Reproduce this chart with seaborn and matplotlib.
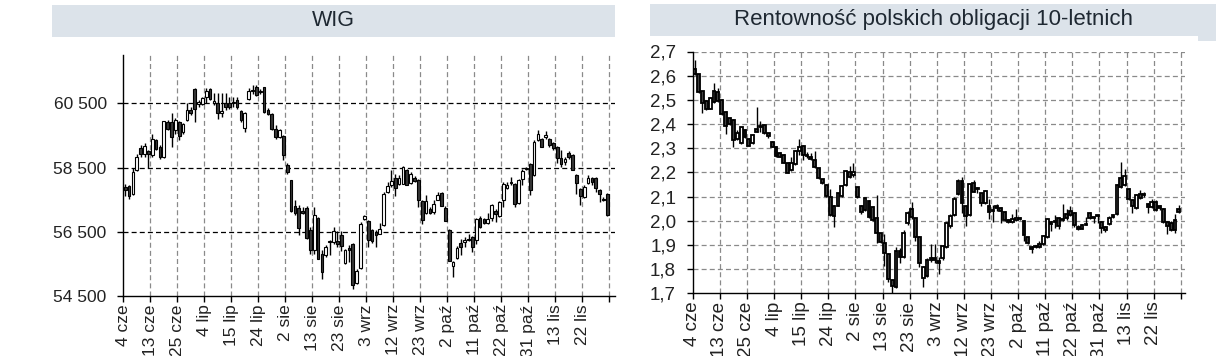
import numpy as np
import matplotlib
matplotlib.use("Agg")
import matplotlib.pyplot as plt
from matplotlib.patches import Rectangle
import seaborn as sns

# ---------------- data ----------------
tick_labels = ["4 cze", "13 cze", "25 cze", "4 lip", "15 lip", "24 lip", "2 sie",
               "13 sie", "23 sie", "3 wrz", "12 wrz", "23 wrz", "2 paź", "11 paź",
               "22 paź", "31 paź", "13 lis", "22 lis", ""]

wig_open = [57895, 57915, 57686, 58416, 59093, 58916, 59010, 58875, 59354, 59145,
            58833, 59906, 59906, 59666, 59906, 59614, 59979, 60292, 60948, 60470,
            60479, 60687, 60937, 60500, 60500, 60187, 60500, 60500, 60500, 60604,
            60260, 59719, 60625, 60875, 61000, 60850, 61000, 60292, 60156, 59687,
            59437, 59489, 58573, 58104, 57312, 57250, 57155, 57250, 56562, 55937,
            56937, 55812, 55760, 56187, 56177, 56198, 56385, 55520, 56000, 56125,
            54895, 55375, 56885, 56833, 56541, 56479, 56437, 56700, 57739, 57948,
            58177, 58000, 58000, 58416, 58020, 58187, 58125, 57468, 57083, 57208,
            57125, 57500, 57718, 57250, 56541, 55437, 55687, 56150, 56177, 56270,
            56333, 56230, 56937, 56906, 56770, 56937, 57145, 56979, 57479, 57875,
            58052, 58000, 57395, 58156, 58458, 58625, 58260, 59354, 59375, 59437,
            59375, 59250, 59145, 58812, 58677, 58958, 58875, 58281, 57843, 57583,
            58031, 58177, 58187, 57812, 57531, 57666]
wig_high = [58000, 57950, 58500, 58937, 59198, 59250, 59040, 59560, 59400, 59200,
            59950, 59980, 60190, 60030, 59958, 59900, 60521, 60400, 60969, 60600,
            60708, 60969, 60969, 60812, 60812, 60812, 60812, 60708, 60708, 60708,
            60292, 60240, 60969, 61073, 61073, 60960, 61000, 60343, 60187, 59822,
            59697, 59510, 58645, 58120, 57500, 57323, 57270, 57290, 56645, 57270,
            56958, 55916, 56073, 56250, 56645, 56520, 56520, 55958, 56073, 56145,
            55330, 56802, 57030, 56850, 56594, 56541, 56760, 57750, 58052, 58416,
            58312, 58260, 58552, 58468, 58364, 58229, 58156, 57500, 57635, 57270,
            57479, 57739, 57739, 57291, 56583, 55600, 56041, 56270, 56333, 56437,
            56354, 56927, 56979, 56937, 57083, 57375, 57208, 57458, 58052, 58052,
            58208, 58020, 58156, 58468, 58520, 58645, 59354, 59666, 59406, 59635,
            59406, 59302, 59166, 59041, 58833, 59010, 58916, 58312, 57875, 57948,
            58260, 58208, 58208, 57843, 57583, 57708]
wig_low = [57600, 57530, 57650, 58400, 58833, 58833, 58500, 58833, 59040, 58780,
           58800, 59670, 59145, 59560, 59354, 59550, 59958, 60135, 59906, 60400,
           60448, 60500, 60594, 60448, 60000, 60083, 60292, 60333, 60396, 60333,
           59927, 59614, 60594, 60792, 60729, 60800, 60200, 60135, 59666, 59400,
           59406, 58730, 58300, 57100, 57010, 56385, 57060, 56280, 55790, 55812,
           55655, 55030, 55710, 55760, 56125, 56020, 55895, 55500, 55565, 54720,
           54875, 55343, 56854, 56020, 56145, 56020, 56416, 56667, 57708, 57885,
           57604, 57948, 57979, 57948, 57995, 58052, 57270, 56750, 57062, 57062,
           57062, 57479, 57291, 56823, 55583, 55083, 55656, 55760, 56020, 56218,
           55864, 56125, 56625, 56750, 56750, 56833, 56802, 56958, 57270, 57843,
           57948, 57270, 57375, 57948, 58416, 57635, 58229, 59333, 59125, 59375,
           59145, 59041, 58645, 58520, 58572, 58780, 58416, 57666, 57322, 57562,
           58000, 57948, 57739, 57427, 57458, 57000]
wig_close = [57790, 57600, 58364, 58833, 58916, 59177, 58916, 59375, 59083, 58833,
             59948, 59708, 59437, 59989, 59479, 59854, 60292, 60187, 60312, 60530,
             60677, 60896, 60625, 60573, 60187, 60260, 60375, 60375, 60552, 60375,
             59979, 60187, 60896, 60917, 60760, 60900, 60240, 60156, 59687, 59437,
             59666, 58885, 58364, 57145, 57083, 56624, 57093, 56312, 55937, 57030,
             55655, 55260, 56020, 56218, 56510, 56125, 56052, 55916, 55916, 54843,
             55290, 56750, 56980, 56250, 56198, 56385, 56594, 57687, 57916, 58073,
             57875, 58177, 58520, 57968, 58312, 58073, 57500, 56855, 57458, 57093,
             57375, 57656, 57302, 56833, 55583, 55541, 56000, 56020, 56250, 56230,
             56020, 56906, 56645, 56770, 56906, 57322, 57041, 57427, 58000, 57948,
             58020, 57354, 58104, 58395, 58490, 57791, 59302, 59541, 59145, 59500,
             59198, 59093, 58812, 58625, 58770, 58833, 58437, 58020, 57614, 57896,
             58177, 58052, 57875, 57687, 57500, 57010]

bond_open = [2.626, 2.606, 2.536, 2.495, 2.464, 2.492, 2.533, 2.499, 2.449, 2.423,
             2.416, 2.340, 2.320, 2.375, 2.340, 2.320, 2.380, 2.388, 2.396, 2.361,
             2.327, 2.306, 2.281, 2.272, 2.240, 2.210, 2.234, 2.289, 2.309, 2.272,
             2.265, 2.251, 2.217, 2.171, 2.148, 2.099, 2.020, 2.062, 2.102, 2.146,
             2.202, 2.189, 2.138, 2.061, 2.044, 2.082, 2.058, 2.010, 1.948, 1.907,
             1.863, 1.755, 1.728, 1.876, 1.849, 1.989, 2.047, 2.010, 1.934, 1.762,
             1.772, 1.845, 1.848, 1.834, 1.845, 1.890, 1.978, 2.024, 2.110, 2.165,
             2.061, 2.024, 2.155, 2.134, 2.113, 2.072, 2.061, 2.045, 2.061, 2.051,
             2.037, 2.003, 1.996, 2.005, 2.011, 2.001, 1.931, 1.893, 1.896, 1.904,
             1.904, 1.934, 1.995, 1.993, 2.013, 2.003, 2.028, 2.042, 2.034, 1.975,
             1.967, 1.984, 2.032, 2.011, 2.019, 1.995, 1.975, 1.988, 2.014, 2.026,
             2.175, 2.148, 2.130, 2.086, 2.051, 2.112, 2.106, 2.068, 2.058, 2.076,
             2.061, 2.049, 1.994, 1.990, 1.962, 2.047]
bond_high = [2.664, 2.609, 2.538, 2.499, 2.510, 2.570, 2.547, 2.502, 2.453, 2.427,
             2.419, 2.375, 2.389, 2.378, 2.343, 2.357, 2.471, 2.413, 2.400, 2.364,
             2.330, 2.309, 2.285, 2.275, 2.243, 2.265, 2.292, 2.338, 2.313, 2.285,
             2.279, 2.289, 2.220, 2.174, 2.151, 2.130, 2.064, 2.116, 2.146, 2.209,
             2.226, 2.237, 2.141, 2.064, 2.096, 2.085, 2.061, 2.106, 1.951, 1.945,
             1.866, 1.758, 1.893, 1.886, 1.960, 2.041, 2.078, 2.013, 1.937, 1.814,
             1.845, 1.904, 1.904, 1.852, 1.900, 1.995, 2.030, 2.099, 2.171, 2.182,
             2.065, 2.157, 2.169, 2.141, 2.116, 2.127, 2.088, 2.065, 2.069, 2.058,
             2.041, 2.006, 2.030, 2.047, 2.016, 2.005, 1.934, 1.896, 1.900, 1.918,
             1.941, 2.013, 1.999, 2.023, 2.017, 2.068, 2.048, 2.062, 2.037, 1.981,
             1.985, 2.016, 2.037, 2.016, 2.023, 1.999, 1.980, 2.020, 2.030, 2.152,
             2.244, 2.216, 2.134, 2.089, 2.109, 2.126, 2.119, 2.075, 2.089, 2.086,
             2.065, 2.053, 1.999, 1.999, 2.026, 2.065]
bond_low = [2.602, 2.530, 2.444, 2.460, 2.461, 2.488, 2.492, 2.437, 2.358, 2.396,
            2.306, 2.336, 2.317, 2.344, 2.308, 2.317, 2.366, 2.366, 2.358, 2.343,
            2.303, 2.265, 2.262, 2.237, 2.196, 2.207, 2.231, 2.271, 2.253, 2.258,
            2.251, 2.220, 2.171, 2.152, 2.099, 2.021, 1.973, 2.059, 2.099, 2.143,
            2.175, 2.180, 2.093, 2.030, 2.041, 2.010, 2.000, 1.907, 1.910, 1.813,
            1.748, 1.693, 1.721, 1.827, 1.845, 1.982, 2.007, 1.916, 1.810, 1.727,
            1.766, 1.831, 1.827, 1.780, 1.838, 1.886, 1.971, 2.020, 2.106, 2.034,
            1.979, 2.020, 2.117, 2.113, 2.061, 2.068, 2.006, 1.996, 2.041, 1.992,
            2.000, 1.989, 1.989, 1.998, 2.003, 1.916, 1.903, 1.865, 1.886, 1.886,
            1.900, 1.930, 1.958, 1.970, 1.967, 1.999, 2.003, 2.020, 1.975, 1.962,
            1.964, 1.983, 2.009, 1.990, 1.990, 1.950, 1.953, 1.981, 2.010, 2.023,
            2.134, 2.144, 2.086, 2.034, 2.047, 2.092, 2.099, 2.031, 2.051, 2.041,
            2.044, 1.992, 1.947, 1.958, 1.950, 2.032]
bond_close = [2.606, 2.533, 2.488, 2.464, 2.506, 2.537, 2.496, 2.441, 2.393, 2.400,
              2.336, 2.364, 2.386, 2.347, 2.311, 2.354, 2.369, 2.391, 2.365, 2.350,
              2.306, 2.269, 2.265, 2.240, 2.199, 2.237, 2.288, 2.306, 2.271, 2.269,
              2.254, 2.223, 2.175, 2.155, 2.102, 2.024, 2.062, 2.113, 2.143, 2.205,
              2.179, 2.203, 2.097, 2.037, 2.093, 2.014, 2.003, 1.948, 1.913, 1.868,
              1.758, 1.730, 1.876, 1.849, 1.951, 2.033, 2.014, 1.934, 1.824, 1.810,
              1.838, 1.838, 1.838, 1.824, 1.896, 1.992, 2.019, 2.092, 2.165, 2.072,
              2.021, 2.152, 2.120, 2.130, 2.072, 2.124, 2.037, 2.041, 2.051, 2.041,
              2.003, 1.996, 2.006, 2.013, 2.008, 1.943, 1.907, 1.882, 1.890, 1.890,
              1.937, 2.009, 1.986, 1.997, 1.978, 2.009, 2.010, 2.023, 1.984, 1.967,
              1.981, 1.986, 2.013, 2.014, 2.023, 1.971, 1.963, 2.013, 2.023, 2.148,
              2.141, 2.185, 2.088, 2.062, 2.105, 2.095, 2.112, 2.055, 2.079, 2.045,
              2.051, 1.994, 1.978, 1.962, 2.003, 2.037]

# ---------------- style ----------------
sns.set_theme(style="ticks")
plt.rcParams["font.family"] = ["Liberation Sans", "DejaVu Sans"]

W, H = 1231, 356
fig = plt.figure(figsize=(W / 100, H / 100), dpi=100)
fig.patch.set_facecolor("white")


def fx(px):
    return px / W


def fy(py):
    return 1 - py / H


def candles(ax, o, h, l, c, bear_fill, edge_lw):
    o = np.asarray(o, float); h = np.asarray(h, float)
    l = np.asarray(l, float); c = np.asarray(c, float)
    x = np.arange(len(o)) + 0.5
    ax.vlines(x, l, h, color="black", lw=1.0, zorder=3)
    bull = c >= o
    bottom = np.minimum(o, c)
    height = np.abs(c - o)
    ax.bar(x[bull], height[bull], bottom=bottom[bull], width=0.72,
           color="white", edgecolor="black", linewidth=edge_lw, zorder=4)
    ax.bar(x[~bull], height[~bull], bottom=bottom[~bull], width=0.72,
           color=bear_fill, edgecolor="black", linewidth=edge_lw, zorder=4)


def style_axes(ax, fs, ypad):
    for s in ["top", "right"]:
        ax.spines[s].set_visible(False)
    for s in ["left", "bottom"]:
        ax.spines[s].set_color("black")
        ax.spines[s].set_linewidth(1.0)
        ax.spines[s].set_zorder(5)
    ax.set_xticks(np.arange(0, 127, 7))
    ax.set_xticklabels(tick_labels, rotation=90, fontsize=fs, color="#222222")
    ax.tick_params(axis="both", direction="out", length=4, width=1.0,
                   color="black", labelsize=fs, labelcolor="#222222")
    ax.tick_params(axis="x", pad=2)
    ax.tick_params(axis="y", pad=ypad)
    ax.set_facecolor("white")


# ---------------- WIG ----------------
axL = fig.add_axes([fx(123.3), fy(295.9), fx(127.5 * 3.857), (295.9 - 55.2) / H])
candles(axL, wig_open, wig_high, wig_low, wig_close, "#383838", 0.8)
axL.set_xlim(0, 127.5)
axL.set_ylim(54500, 62000)
axL.set_yticks([54500, 56500, 58500, 60500])
axL.set_yticklabels(["54 500", "56 500", "58 500", "60 500"])
style_axes(axL, 12.5, 8)
for yv in [56500, 58500, 60500]:
    axL.axhline(yv, color="black", lw=0.9, ls=(0, (4, 2.5)), zorder=1)
for xv in range(7, 127, 7):
    axL.axvline(xv, color="#8a8a8a", lw=0.9, ls=(0, (4, 2.5)), zorder=1)

# ---------------- Bonds ----------------
axR = fig.add_axes([fx(692.7), fy(293.3), fx(127 * 3.874), (293.3 - 51.5) / H])
candles(axR, bond_open, bond_high, bond_low, bond_close, "#404040", 1.3)
axR.set_xlim(0, 127)
axR.set_ylim(1.7, 2.7)
yt = np.round(np.arange(1.7, 2.71, 0.1), 1)
axR.set_yticks(yt)
axR.set_yticklabels([f"{v:.1f}".replace(".", ",") for v in yt])
style_axes(axR, 13.5, 8)
for yv in yt[1:]:
    axR.axhline(yv, color="#8a8a8a", lw=0.9, ls=(0, (4, 2.5)), zorder=1)
for xv in range(7, 127, 7):
    axR.axvline(xv, color="#8a8a8a", lw=0.9, ls=(0, (4, 2.5)), zorder=1)

# ---------------- title boxes ----------------
box_col = "#dce3ea"
fig.patches.append(Rectangle((fx(52), fy(37)), fx(615 - 52), (37 - 5) / H,
                             transform=fig.transFigure, facecolor=box_col,
                             edgecolor="none", zorder=0))
fig.patches.append(Rectangle((fx(650), fy(36)), fx(1216 - 650), (36 - 4) / H,
                             transform=fig.transFigure, facecolor=box_col,
                             edgecolor="none", zorder=0))
fig.patches.append(Rectangle((fx(1198), fy(41)), fx(1216 - 1198), 5 / H,
                             transform=fig.transFigure, facecolor=box_col,
                             edgecolor="none", zorder=0))
fig.text(fx(333.5), fy(21), "WIG", ha="center", va="center", fontsize=15.5,
         color="#1e2832")
fig.text(fx(933), fy(20), "Rentowność polskich obligacji 10-letnich", ha="center",
         va="center", fontsize=16, color="#1e2832")

fig.savefig("out.png", dpi=100, facecolor="white")
